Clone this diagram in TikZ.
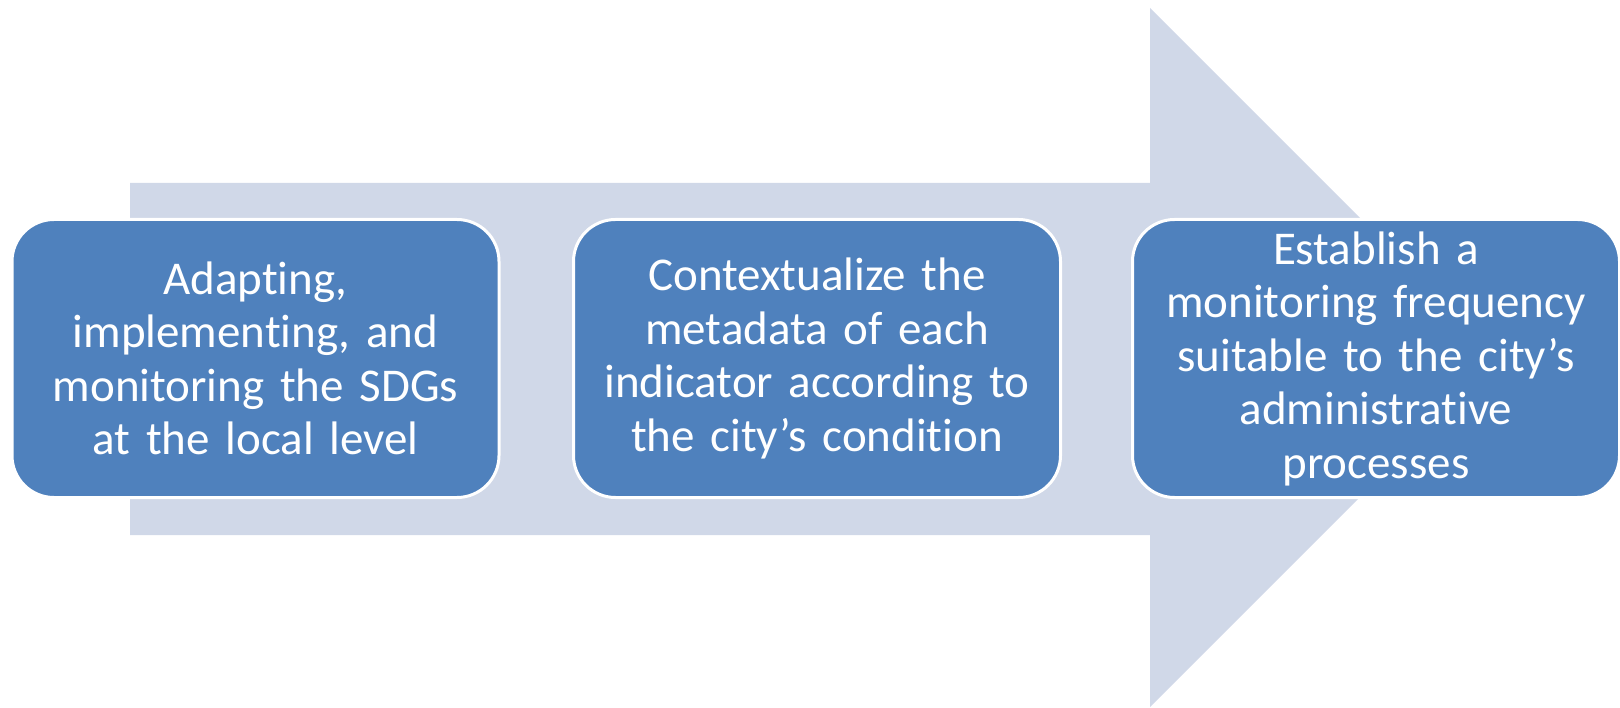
\documentclass[tikz,border=0pt]{standalone}
\usepackage{fontspec}
\setmainfont[Ligatures={NoCommon}]{Carlito}
\definecolor{arrowfill}{HTML}{D0D8E8}
\definecolor{stepfill}{HTML}{4F81BD}
\begin{document}
\begin{tikzpicture}[x=1pt,y=-1pt,
  stepbox/.style={rectangle, rounded corners=42pt, fill=stepfill, draw=white,
    line width=3pt, minimum width=487pt, minimum height=278pt,
    text width=470pt, align=center, text=white, inner sep=0pt,
    font=\fontsize{47}{53.5}\selectfont}]
  \useasboundingbox (0,0) rectangle (1620,708);
  % background arrow
  \fill[arrowfill] (130,183) -- (1150,183) -- (1150,8) -- (1499.5,357.5)
     -- (1150,707) -- (1150,535) -- (130,535) -- cycle;
  % process steps
  \node[stepbox] (s1) at (255.5,358.5) {Adapting,\\implementing, and\\monitoring the SDGs\\at the local level};
  \node[stepbox] (s2) at (817,358.5) {Contextualize the\\metadata of each\\indicator according to\\the city’s condition};
  \node[stepbox] (s3) at (1376,358.5) {Establish a\\monitoring frequency\\suitable to the city’s\\administrative\\processes};
\end{tikzpicture}
\end{document}
